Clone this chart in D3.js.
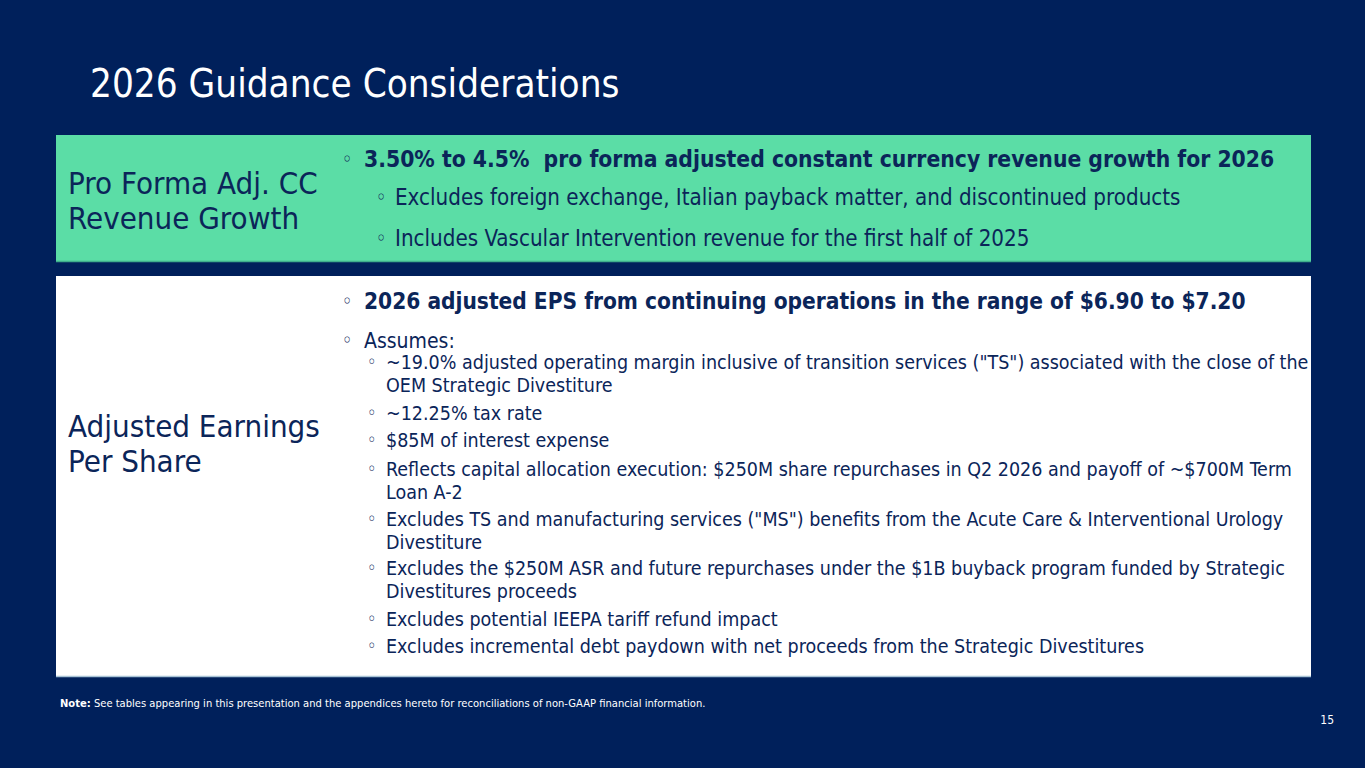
<!DOCTYPE html>
<html>
<head>
<meta charset="utf-8">
<script src="https://cdnjs.cloudflare.com/ajax/libs/d3/7.8.5/d3.min.js"></script>
<style>
  html,body{margin:0;padding:0;background:#00205b;}
  svg{display:block;}
  text{font-family:"DejaVu Sans Condensed","DejaVu Sans",sans-serif;white-space:pre;}
</style>
</head>
<body>
<div id="slide"></div>
<script>
// slide content
var title = "2026 Guidance Considerations";
var sectionLabels = [["Pro Forma Adj. CC","Revenue Growth"],["Adjusted Earnings","Per Share"]];
// each bullet: [level, bold, lines]
var revenueBullets = [
  [1, true, ["3.50% to 4.5%  pro forma adjusted constant currency revenue growth for 2026"]],
  [2, false, ["Excludes foreign exchange, Italian payback matter, and discontinued products"]],
  [2, false, ["Includes Vascular Intervention revenue for the first half of 2025"]]
];
var epsBullets = [
  [1, true, ["2026 adjusted EPS from continuing operations in the range of $6.90 to $7.20"]],
  [1, false, ["Assumes:"]],
  [2, false, ["~19.0% adjusted operating margin inclusive of transition services (\"TS\") associated with the close of the","OEM Strategic Divestiture"]],
  [2, false, ["~12.25% tax rate"]],
  [2, false, ["$85M of interest expense"]],
  [2, false, ["Reflects capital allocation execution: $250M share repurchases in Q2 2026 and payoff of ~$700M Term","Loan A-2"]],
  [2, false, ["Excludes TS and manufacturing services (\"MS\") benefits from the Acute Care & Interventional Urology","Divestiture"]],
  [2, false, ["Excludes the $250M ASR and future repurchases under the $1B buyback program funded by Strategic","Divestitures proceeds"]],
  [2, false, ["Excludes potential IEEPA tariff refund impact"]],
  [2, false, ["Excludes incremental debt paydown with net proceeds from the Strategic Divestitures"]]
];
var noteLabel = "Note:";
var noteText = " See tables appearing in this presentation and the appendices hereto for reconciliations of non-GAAP financial information.";
var pageNumber = "15";

var W = 1365, H = 768;
var navy = "#00205b", ink = "#0b2559", green = "#5bdda6";

var svg = d3.select("#slide").append("svg").attr("width",W).attr("height",H);
svg.append("rect").attr("width",W).attr("height",H).attr("fill",navy);

svg.append("text")
  .attr("x",90).attr("y",97)
  .attr("fill","#ffffff")
  .style("font-size","38.3px")
  .text(title);

// panels
var panels = [
  {y:135, h:127, fill:green, stroke:"#3fae8c"},
  {y:276, h:401, fill:"#ffffff", stroke:"#a9c4d6"}
];
panels.forEach(function(p){
  svg.append("rect").attr("x",56).attr("y",p.y).attr("width",1255).attr("height",p.h).attr("fill",p.fill);
  svg.append("line").attr("x1",56).attr("x2",1311).attr("y1",p.y+p.h-0.5).attr("y2",p.y+p.h-0.5)
    .attr("stroke",p.stroke).attr("stroke-width",1.5);
});

// section labels
var labelTops = [194, 437];
sectionLabels.forEach(function(lines,i){
  svg.append("text")
    .attr("x",68).attr("y",labelTops[i])
    .attr("fill",ink)
    .style("font-size","31px")
    .selectAll("tspan")
    .data(lines)
    .enter()
    .append("tspan")
    .attr("x",68)
    .attr("dy",function(d,j){return j ? 35 : 0;})
    .text(function(d){return d;});
});

// one bullet row: small ring glyph then its lines
var drawBullet = function(b, y, lvl, wrap){
  svg.append("text")
    .attr("x",lvl.bx).attr("y",y-1)
    .attr("fill",ink)
    .style("font-size",lvl.dot+"px")
    .text("\u25E6");
  b[2].forEach(function(line,j){
    svg.append("text")
      .attr("x",lvl.tx).attr("y",y + j*wrap)
      .attr("fill",ink)
      .style("font-size",(b[1] ? lvl.boldSize : lvl.size)+"px")
      .style("font-weight",b[1] ? "bold" : "normal")
      .text(line);
  });
};

var revLevels = {
  1:{bx:342,tx:364,size:22.2,boldSize:22.7,dot:20},
  2:{bx:376,tx:395,size:22.2,boldSize:22.2,dot:20}
};
var revBaselines = [167,205,246];
revenueBullets.forEach(function(b,i){ drawBullet(b, revBaselines[i], revLevels[b[0]], 24); });

var epsLevels = {
  1:{bx:342,tx:364,size:21,boldSize:22.5,dot:20},
  2:{bx:367,tx:386,size:19.5,boldSize:19.5,dot:18}
};
var epsBaselines = [309,348,369,420,447,476,526,575,626,653];
epsBullets.forEach(function(b,i){ drawBullet(b, epsBaselines[i], epsLevels[b[0]], 23); });

// footnote
var note = svg.append("text").attr("x",60).attr("y",707).attr("fill","#ffffff").style("font-size","11.1px");
note.append("tspan").style("font-weight","bold").text(noteLabel);
note.append("tspan").text(noteText);

svg.append("text").attr("x",1334).attr("y",724).attr("fill","#ffffff")
  .attr("text-anchor","end").style("font-size","12px").text(pageNumber);
</script>
</body>
</html>
